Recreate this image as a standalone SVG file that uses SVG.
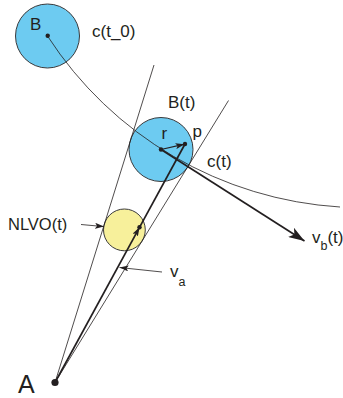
<svg xmlns="http://www.w3.org/2000/svg" width="343" height="398" viewBox="0 0 343 398">
<style>
.thin{fill:none;stroke:#231f20;stroke-width:0.8}
.thick{fill:none;stroke:#231f20;stroke-width:1.7}
.mid{fill:none;stroke:#231f20;stroke-width:1.2}
.dot{fill:#231f20}
.lbl{font-family:"Liberation Sans",Arial,sans-serif;font-size:17px;fill:#231f20}
.sub{font-size:12.5px}
.blue{fill:#6dcbf1;stroke:#3a3a3c;stroke-width:1}
.yellow{fill:#f7f09b;stroke:#3a3a3c;stroke-width:1}
</style>
<defs>
<marker id="ah" markerUnits="userSpaceOnUse" markerWidth="9" markerHeight="6" refX="9" refY="3" orient="auto" viewBox="0 0 9 6">
<path d="M0,0 L9,3 L0,6 L2,3 z" fill="#231f20"/>
</marker>
<marker id="big" markerUnits="userSpaceOnUse" markerWidth="16" markerHeight="11" refX="16" refY="5.5" orient="auto" viewBox="0 0 16 11">
<path d="M0,0 L16,5.5 L0,11 L4,5.5 z" fill="#231f20"/>
</marker>
</defs>
<rect width="343" height="398" fill="#ffffff"/>
<g id="node-B">
<circle class="blue" cx="47.5" cy="36" r="32"/>
<text class="lbl" x="30" y="30">B</text>
</g>
<g id="node-Bt">
<circle class="blue" cx="161" cy="149.5" r="32"/>
<text class="lbl" x="168" y="108">B(t)</text>
</g>
<g id="node-NLVO">
<circle class="yellow" cx="124.4" cy="229.9" r="20.9"/>
</g>
<g id="connectors">
<path class="thin" d="M47.5,36 A376,376 0 0 0 340,207"/>
<line class="thin" x1="55" y1="382.5" x2="154" y2="65"/>
<line class="thin" x1="55" y1="382.5" x2="228.5" y2="100.5"/>
<line class="thick" x1="55" y1="382.5" x2="139.5" y2="227.3" marker-end="url(#ah)"/>
<line class="thick" x1="139.5" y1="227.3" x2="185" y2="144"/>
<line class="mid" x1="161" y1="149.5" x2="184.5" y2="144.2" marker-end="url(#ah)"/>
<line class="thick" x1="161" y1="149.5" x2="304.5" y2="241" marker-end="url(#big)"/>
<line class="thin" x1="81" y1="224.5" x2="104" y2="226.6" marker-end="url(#ah)"/>
<line class="thin" x1="162" y1="272" x2="119.5" y2="267.5" marker-end="url(#ah)"/>
</g>
<g id="points">
<circle class="dot" cx="47.7" cy="35.7" r="2.2"/>
<circle class="dot" cx="161" cy="149.5" r="2.2"/>
<circle class="dot" cx="185" cy="144" r="2.2"/>
<circle class="dot" cx="139.5" cy="227.3" r="2.2"/>
<circle class="dot" cx="55" cy="382.5" r="3.6"/>
</g>
<g id="labels">
<text class="lbl" x="92" y="37">c(t_0)</text>
<text class="lbl" x="161.5" y="139">r</text>
<text class="lbl" x="192.5" y="137">p</text>
<text class="lbl" x="207" y="167">c(t)</text>
<text class="lbl" x="8" y="230" style="font-size:16.5px">NLVO(t)</text>
<text class="lbl" x="312" y="243">v<tspan class="sub" dy="7">b</tspan><tspan dy="-7">(t)</tspan></text>
<text class="lbl" x="170" y="277">v<tspan class="sub" dy="9">a</tspan></text>
<text class="lbl" x="18" y="393" style="font-size:25px">A</text>
</g>
</svg>
